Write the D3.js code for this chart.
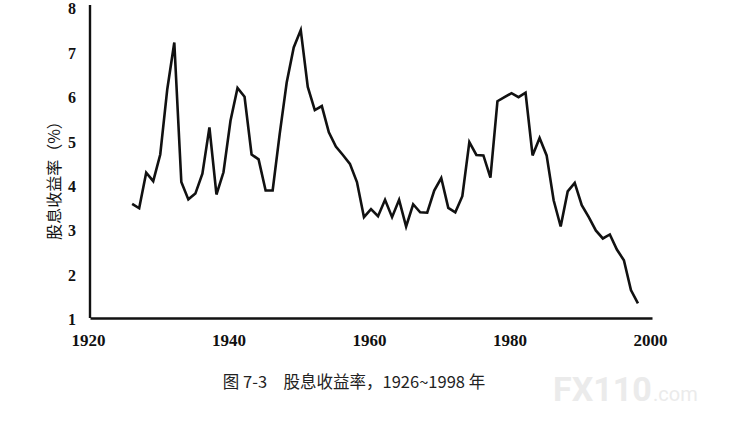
<!DOCTYPE html>
<html>
<head>
<meta charset="utf-8">
<script src="https://cdn.jsdelivr.net/npm/d3@7"></script>
<style>
  html, body { margin: 0; padding: 0; background: #fff; }
  svg { display: block; }
</style>
</head>
<body>
<div id="chart"></div>
<script>
// dividend yield
const years = [
    1926, 1927, 1928, 1929, 1930, 1931, 1932, 1933, 1934, 1935,
    1936, 1937, 1938, 1939, 1940, 1941, 1942, 1943, 1944, 1945,
    1946, 1947, 1948, 1949, 1950, 1951, 1952, 1953, 1954, 1955,
    1956, 1957, 1958, 1959, 1960, 1961, 1962, 1963, 1964, 1965,
    1966, 1967, 1968, 1969, 1970, 1971, 1972, 1973, 1974, 1975,
    1976, 1977, 1978, 1979, 1980, 1981, 1982, 1983, 1984, 1985,
    1986, 1987, 1988, 1989, 1990, 1991, 1992, 1993, 1994, 1995,
    1996, 1997, 1998
];
const yields = [
    3.57, 3.47, 4.27, 4.08, 4.68, 6.15, 7.20, 4.06, 3.67, 3.80,
    4.25, 5.29, 3.78, 4.28, 5.44, 6.18, 5.98, 4.68, 4.57, 3.87,
    3.87, 5.14, 6.30, 7.09, 7.48, 6.20, 5.68, 5.77, 5.18, 4.86,
    4.67, 4.47, 4.06, 3.27, 3.45, 3.29, 3.66, 3.27, 3.66, 3.06,
    3.56, 3.38, 3.37, 3.87, 4.15, 3.48, 3.38, 3.74, 4.96, 4.67,
    4.66, 4.16, 5.88, 5.97, 6.06, 5.97, 6.07, 4.66, 5.05, 4.66,
    3.65, 3.06, 3.85, 4.04, 3.54, 3.27, 2.97, 2.79, 2.88, 2.54,
    2.30, 1.63, 1.33
];
const xTicks = [1920, 1940, 1960, 1980, 2000];
const yTicks = [1, 2, 3, 4, 5, 6, 7, 8];
const yLabel = '股息收益率（%）';
const caption = '图 7-3　股息收益率，1926~1998 年';

const W = 736, H = 441;
const svg = d3.select('#chart').append('svg')
    .attr('width', W)
    .attr('height', H);

const x = d3.scaleLinear().domain([1920, 2000]).range([90, 652]);
const y = d3.scaleLinear().domain([1, 8]).range([318, 7]);

const tickFont = '"Liberation Serif", "DejaVu Serif", serif';

// x axis
const xAxis = svg.append('g')
    .attr('transform', `translate(0,${y(1)})`)
    .call(d3.axisBottom(x).tickValues(xTicks).tickFormat(d3.format('d')).tickSize(0).tickPadding(16));
xAxis.select('.domain').attr('stroke', '#111').attr('stroke-width', 2.4);
xAxis.selectAll('text')
    .attr('dx', -2)
    .style('font-family', tickFont)
    .style('font-weight', 'bold')
    .style('font-size', '17px')
    .attr('fill', '#111');

// y axis
const yAxis = svg.append('g')
    .attr('transform', `translate(${x(1920)},0)`)
    .call(d3.axisLeft(y).tickValues(yTicks).tickFormat(d3.format('d')).tickSize(0).tickPadding(14));
yAxis.select('.domain').attr('stroke', '#111').attr('stroke-width', 2.4)
    .attr('d', `M0,${y(8) - 2}V${y(1)}`);
yAxis.selectAll('text')
    .attr('dy', '0.42em')
    .style('font-family', tickFont)
    .style('font-weight', 'bold')
    .style('font-size', '16px')
    .attr('fill', '#111');

svg.append('text')
    .attr('transform', `translate(60,${(y(1) + y(8)) / 2 + 14}) rotate(-90)`)
    .attr('text-anchor', 'middle')
    .style('font-family', '"Noto Sans CJK SC", sans-serif')
    .style('font-size', '16px')
    .attr('fill', '#111')
    .text(yLabel);

// the series
const line = d3.line()
    .x((d, i) => x(years[i]))
    .y(d => y(d));

svg.append('path')
    .datum(yields)
    .attr('fill', 'none')
    .attr('stroke', '#111')
    .attr('stroke-width', 2.6)
    .attr('stroke-linejoin', 'miter')
    .attr('d', line);

svg.append('text')
    .attr('x', 354)
    .attr('y', 388)
    .attr('text-anchor', 'middle')
    .style('font-family', '"Noto Sans CJK SC", sans-serif')
    .style('font-size', '16.5px')
    .attr('fill', '#222')
    .text(caption);

// watermark
const wm = svg.append('g').attr('fill', '#ebebeb');
wm.append('text')
    .attr('x', 553)
    .attr('y', 401)
    .style('font-family', '"Liberation Sans Narrow", "Roboto", sans-serif')
    .style('font-weight', 'bold')
    .style('font-size', '34px')
    .text('FX110');
wm.append('text')
    .attr('x', 653)
    .attr('y', 401)
    .style('font-family', '"Roboto", sans-serif')
    .style('font-size', '20px')
    .text('.com');
</script>
</body>
</html>
